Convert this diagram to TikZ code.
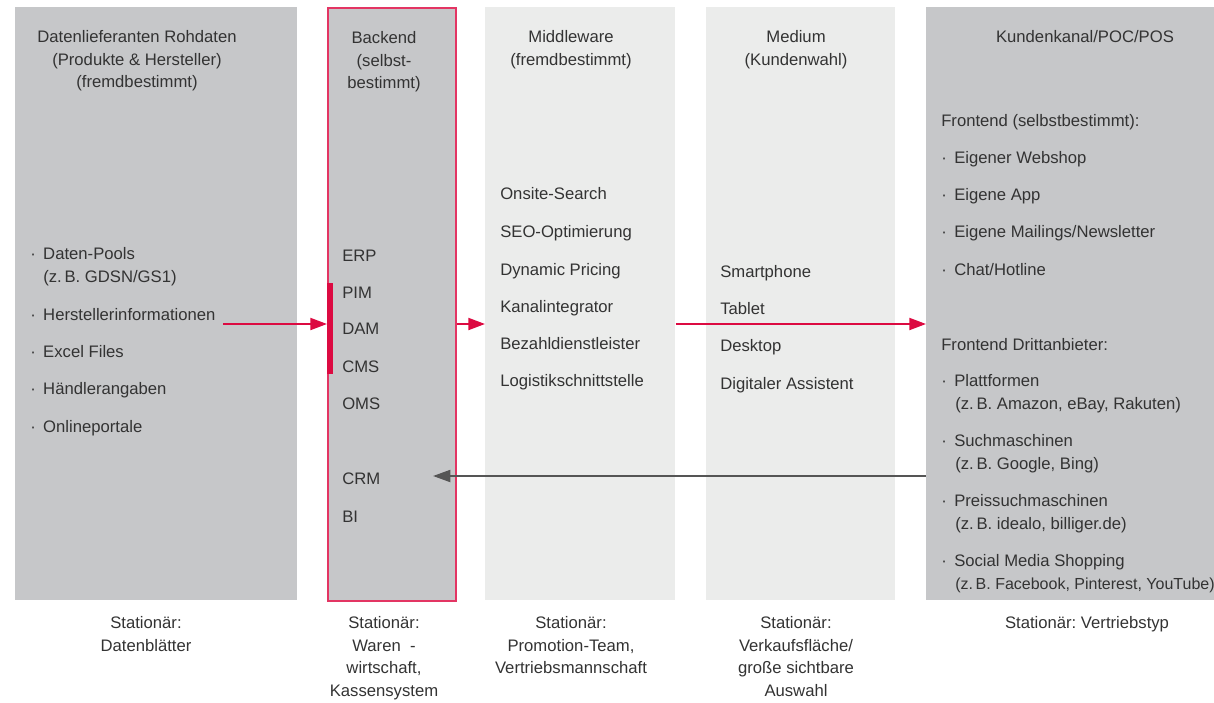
\documentclass[tikz,border=0pt]{standalone}
\usepackage{fontspec}
\setmainfont{Liberation Sans}
\usetikzlibrary{arrows.meta,positioning}
\definecolor{dunkelgrau}{HTML}{C6C7C9}
\definecolor{hellgrau}{HTML}{EBECEB}
\definecolor{rot}{HTML}{DC0A41}
\definecolor{rand}{HTML}{E33563}
\definecolor{pfeilgrau}{HTML}{555555}
\definecolor{schrift}{HTML}{333333}
\frenchspacing
\newcommand\spaltenfont{\fontsize{12.5}{17}\selectfont}
\newcommand\bul{\makebox[9.75pt][l]{·}}
\tikzstyle{col} = [rectangle,inner sep=0,anchor=north west,minimum height=593*\pp]
\tikzstyle{head} = [align=center,inner sep=0,anchor=north,font=\spaltenfont,text=schrift]
\tikzstyle{item} = [inner sep=0,anchor=base west,font=\spaltenfont,text=schrift]
\tikzstyle{link} = [-{Triangle[length=12.5pt,width=9pt]},line width=1.5pt,draw=rot]
\tikzstyle{back} = [-{Triangle[length=13pt,width=9pt]},line width=1.5pt,draw=pfeilgrau]
\def \pp {0.75pt}

\begin{document}
\begin{tikzpicture}[x=0.75pt,y=-0.75pt]
  \useasboundingbox (0,0) rectangle (1214,703);
  % Spalten
  \node[col,fill=dunkelgrau,draw=rand,line width=1.4pt,minimum width=128*\pp] (backend) at (327,7) {};
  \node[col,fill=dunkelgrau,minimum width=282*\pp] (daten) at (15,7) {};
  \node[col,fill=hellgrau,minimum width=190*\pp] (middle) at (485,7) {};
  \node[col,fill=hellgrau,minimum width=189*\pp] (medium) at (706,7) {};
  \node[col,fill=dunkelgrau,minimum width=288*\pp] (kunden) at (926,7) {};
  \fill[rot] (327,283) rectangle (333,374);

  % Pfeile
  \coordinate (hs) at (223,324);
  \coordinate (crmziel) at (433,476);
  \draw[link] (hs) -- (hs -| backend.west);
  \draw[link] (backend.east |- hs) -- (hs -| middle.west);
  \draw[link] (middle.east |- hs) -- (hs -| kunden.west);
  \draw[back] (kunden.west |- crmziel) -- (crmziel);

  % Kopfzeilen
  \node[head] (hdaten) at (137,30) {Datenlieferanten Rohdaten\\(Produkte \& Hersteller)\\(fremdbestimmt)};
  \node[head] (hbackend) at (384,31) {Backend\\(selbst-\\bestimmt)};
  \node[head] (hmiddle) at (571,30) {Middleware\\(fremdbestimmt)};
  \node[head] (hmedium) at (796,30) {Medium\\(Kundenwahl)};
  \node[head] (hkunden) at (1085,30) {Kundenkanal/POC/POS};

  % Datenlieferanten
  \foreach \y/\t [count=\i] in {259/Daten-Pools, 320/Herstellerinformationen, 357/Excel Files, 394/Händlerangaben, 432/Onlineportale}
    \node[item] (da\i) at (30,\y) {\bul\t};
  \node[item] (da1b) at (43,282) {(z.\,B. GDSN/GS1)};

  % Backend
  \foreach \y/\t [count=\i] in {261/ERP, 298/PIM, 334/DAM, 372/CMS, 409/OMS, 484/CRM, 522/BI}
    \node[item] (be\i) at (342,\y) {\t};

  % Middleware
  \foreach \y/\t [count=\i] in {199/Onsite-Search, 237/SEO-Optimierung, 275/Dynamic Pricing, 312/Kanalintegrator, 349/Bezahldienstleister, 386/Logistikschnittstelle}
    \node[item] (mw\i) at (500,\y) {\t};

  % Medium
  \foreach \y/\t [count=\i] in {277/Smartphone, 314/Tablet, 351/Desktop, 389/Digitaler Assistent}
    \node[item] (me\i) at (720,\y) {\t};

  % Kundenkanal
  \node[item] (fe) at (941,126) {Frontend (selbstbestimmt):};
  \foreach \y/\t [count=\i] in {163/Eigener Webshop, 200/Eigene App, 237/{Eigene Mailings/Newsletter}, 275/{Chat/Hotline}}
    \node[item] (fe\i) at (941,\y) {\bul\t};
  \node[item] (fd) at (941,350) {Frontend Drittanbieter:};
  \foreach \y/\t/\z [count=\i] in {386/Plattformen/{(z.\,B. Amazon, eBay, Rakuten)}, 446/Suchmaschinen/{(z.\,B. Google, Bing)}, 506/Preissuchmaschinen/{(z.\,B. idealo, billiger.de)}}{
    \node[item] (fd\i) at (941,\y) {\bul\t};
    \node[item] (fd\i b) at (955,\y+23) {\z};
  }
  \node[item] (fd4) at (941,566) {\bul Social Media Shopping};
  \node[item,font=\fontsize{12}{17}\selectfont] (fd4b) at (955,589) {(z.\,B. Facebook, Pinterest, YouTube)};

  % Fusszeilen
  \node[head] (fdaten) at (146,616) {Stationär:\\Datenblätter};
  \node[head] (fbackend) at (384,616) {Stationär:\\Waren\ \ -\\wirtschaft,\\Kassensystem};
  \node[head] (fmiddle) at (571,616) {Stationär:\\Promotion-Team,\\Vertriebsmannschaft};
  \node[head] (fmedium) at (796,616) {Stationär:\\Verkaufsfläche/\\große sichtbare\\Auswahl};
  \node[head] (fkunden) at (1087,616) {Stationär: Vertriebstyp};
\end{tikzpicture}
\end{document}
